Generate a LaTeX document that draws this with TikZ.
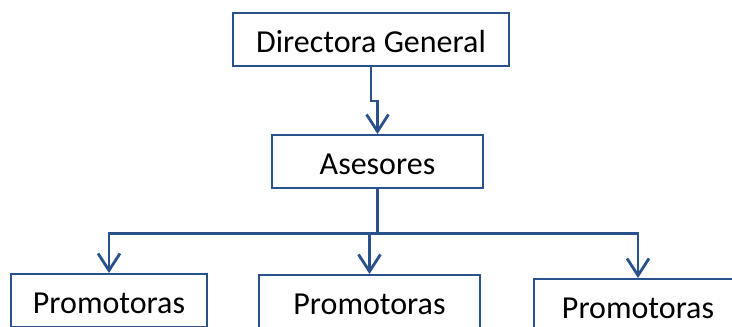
\documentclass[tikz,border=0pt]{standalone}
\usepackage{fontspec}
\setmainfont{Carlito}
\usepackage{tikz}
\usetikzlibrary{arrows.meta}
\definecolor{orgblue}{RGB}{41,82,140}

\begin{document}
\begin{tikzpicture}[x=0.5pt, y=-0.5pt,%
    box/.style={draw=orgblue, line width=1pt, fill=white, minimum height=26.5pt,%
      inner sep=0pt, text height=13pt, text depth=0pt,%
      font=\fontsize{16}{19}\selectfont},%
    link/.style={draw=orgblue, line width=1.4pt},%
    tip/.style={-{Straight Barb[length=8.5pt, width=11pt]}}]
        \clip[use as bounding box] (0,0) rectangle (732,326);%
        \node[box, minimum width=138pt] (dir) at (371,39.5) {Directora General};%
        \node[box, minimum width=105.5pt] (ases) at (377.5,161.5) {Asesores};%
        \node[box, minimum width=98pt] (prom1) at (109,300.5) {Promotoras};%
        \node[box, minimum width=110.5pt] (prom2) at (369.5,301.5) {Promotoras};%
        \node[box, minimum width=104pt] (prom3) at (638,305.5) {Promotoras};%
        \draw[link, tip] (dir.south) -- ++(0,34) -| (ases.north); %
        \draw[link] (ases.south) -- ++(0,44.5) coordinate (split); %
        \draw[link, tip] (split) -| (prom1.north); %
        \draw[link, tip] (split) -| (prom3.north); %
        \draw[link, tip] (prom2.north |- split) -- (prom2.north); %
      \end{tikzpicture}
\end{document}
